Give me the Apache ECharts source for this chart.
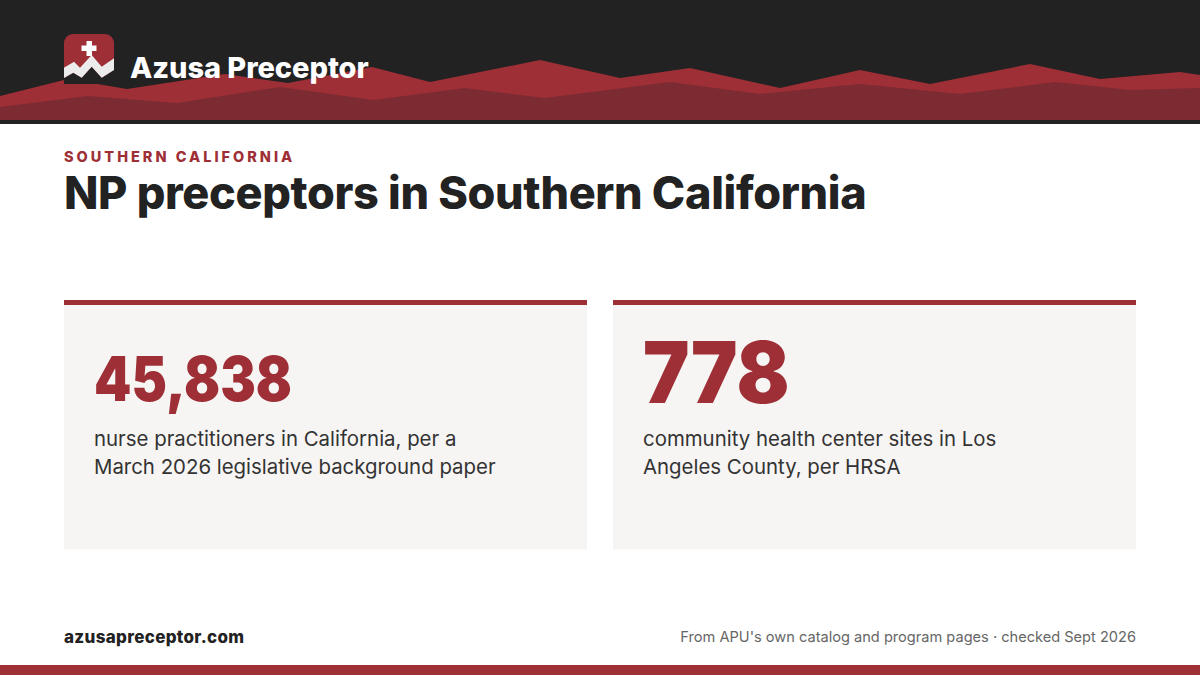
<!DOCTYPE html>
<html><head><meta charset="utf-8">
<style>html,body{margin:0;padding:0;background:#fff}#c{width:1200px;height:675px}</style>
<script src="https://cdn.jsdelivr.net/npm/echarts@6/dist/echarts.min.js"></script>
</head><body><div id="c"></div>
<script>
const brandName = "Azusa Preceptor";
const eyebrow = "SOUTHERN CALIFORNIA";
const headline = "NP preceptors in Southern California";
const statValues = ["45,838", "778"];
const statLines = [
  ["nurse practitioners in California, per a", "March 2026 legislative background paper"],
  ["community health center sites in Los", "Angeles County, per HRSA"]
];
const footerSite = "azusapreceptor.com";
const footerNote = "From APU's own catalog and program pages · checked Sept 2026";
const backRidge = [[0,96],[68,79],[127,89],[225,74],[288,83],[372,67],[430,82],[540,60],[620,78],[690,68],[780,88],[860,70],[930,84],[1030,64],[1100,79],[1180,72],[1200,75]];
const frontRidge = [[0,107],[88,96],[177,103],[280,87],[373,100],[465,88],[545,98],[670,82],[760,94],[860,84],[960,94],[1055,82],[1130,90],[1200,88]];

const RED="#9e2f36", DARK="#222222", MAROON="#7c2b32";
const F="Inter, 'Noto Sans', sans-serif";
const chart=echarts.init(document.getElementById('c'),null,{renderer:'svg'});
const cards=[64,613];
const el=[];
const spacing={};
function T(text,x,y,font,fill,sp,extra,scaleX){ el.push({type:'text',z:24,x,y,scaleX:scaleX||1,style:Object.assign({text,fill,font:`${font} ${F}`,textVerticalAlign:'middle'},extra||{})}); if(sp) spacing[text]=sp; }
el.push({type:'rect',z:1,shape:{x:0,y:665,width:1200,height:10},style:{fill:RED}});
cards.forEach((x,i)=>{
  el.push({type:'rect',z:1,shape:{x,y:300,width:523,height:249.5},style:{fill:'#f7f5f3'}});
  el.push({type:'rect',z:2,shape:{x,y:300,width:523,height:5},style:{fill:RED}});
  T(statValues[i],x+30,i?372:378,`900 ${i?85:62}px`,RED,0,null,i?0.92:0.86);
  statLines[i].forEach((t,j)=>T(t,x+30,438.5+28*j,'400 20.4px','#333',0));
});
T(eyebrow,64,156.5,'800 14.5px',RED,3);
T(headline,64,192,'800 45px',DARK,-0.33);
T(footerSite,64,637,'800 17px',DARK,0.32);
T(footerNote,1136,637,'400 14.6px','#666',0,{textAlign:'right'});
// logo
el.push({type:'rect',z:20,shape:{x:64,y:34,width:50,height:50,r:[9,9,0,0]},style:{fill:RED}});
el.push({type:'polygon',z:21,shape:{points:[[64,78],[73.3,72.7],[81.7,77.7],[91.7,66.7],[101.7,77.7],[114,70],[114,84],[64,84]]},style:{fill:DARK}});
el.push({type:'polygon',z:22,shape:{points:[[64,67.7],[74,61.7],[80,67.7],[91.7,55],[101.7,66.7],[114,58.3],[114,70],[101.7,77.7],[91.7,66.7],[81.7,77.7],[73.3,72.7],[64,78]]},style:{fill:'#ececec'}});
el.push({type:'rect',z:23,shape:{x:81.5,y:45.5,width:15,height:5.5},style:{fill:'#fff'}});
el.push({type:'rect',z:23,shape:{x:86.5,y:41,width:5.5,height:15},style:{fill:'#fff'}});
T(brandName,130,67.5,'800 29px','#fff',-0.05);

chart.setOption({
  animation:false,
  backgroundColor:'#fff',
  grid:{left:0,top:0,width:1200,height:124,containLabel:false},
  xAxis:{type:'value',min:0,max:1200,show:false},
  yAxis:{type:'value',min:0,max:124,inverse:true,show:false},
  series:[
    {type:'custom',silent:true,z:0,data:[[0]],renderItem:(p,api)=>({type:'rect',shape:{x:0,y:0,width:1200,height:124},style:{fill:DARK}})},
    {type:'line',z:5,data:backRidge,symbol:'none',silent:true,lineStyle:{width:0},areaStyle:{color:RED,origin:120,opacity:1}},
    {type:'line',z:6,data:frontRidge,symbol:'none',silent:true,lineStyle:{width:0},areaStyle:{color:MAROON,origin:120,opacity:1}}
  ],
  graphic:{elements:el}
});
document.querySelectorAll('#c svg text').forEach(t=>{ const s=spacing[t.textContent]; if(s) t.setAttribute('letter-spacing',s); });
</script></body></html>
